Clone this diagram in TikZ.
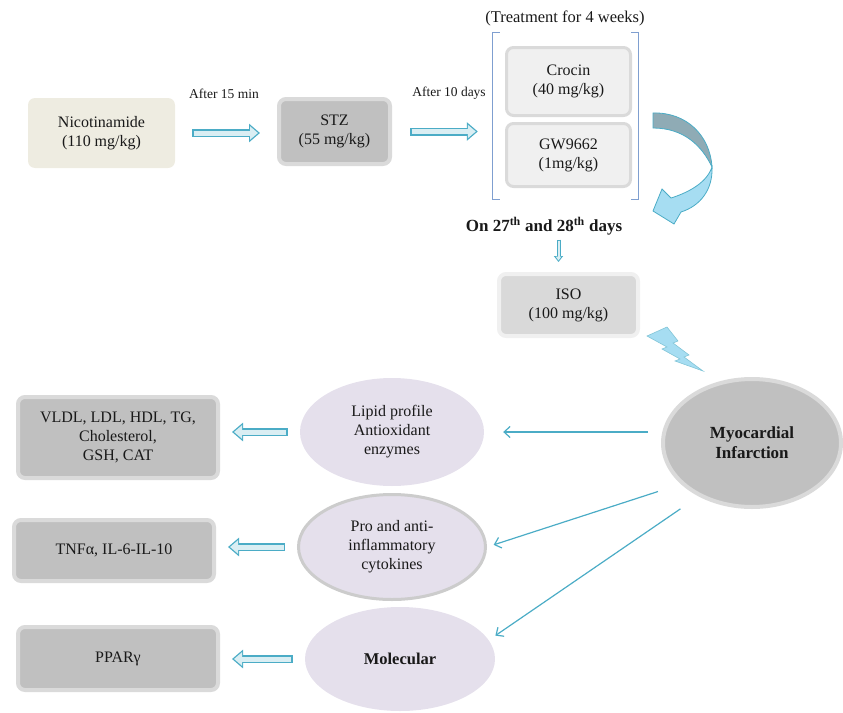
\documentclass[tikz,border=0pt]{standalone}
\usepackage{fontspec}
\setmainfont{Liberation Serif}
\usetikzlibrary{arrows.meta,positioning,shapes.geometric}
\definecolor{arrowline}{HTML}{4BACC6}
\definecolor{arrowfill}{HTML}{DAEEF3}
\definecolor{beige}{HTML}{EEECE1}
\definecolor{midgray}{HTML}{C0C0C0}
\definecolor{rimgray}{HTML}{DADADA}
\definecolor{lightgray2}{HTML}{D9D9D9}
\definecolor{palegray}{HTML}{F0F0F0}
\definecolor{lavender}{HTML}{E5E0EC}
\definecolor{bracketblue}{HTML}{7F9FD0}
\definecolor{boltblue}{HTML}{A6DDF2}
\definecolor{backblue}{HTML}{8FABB5}
\newcommand{\bodyfont}{\fontsize{16}{19}\selectfont}
\newcommand{\notefont}{\fontsize{13.5}{16}\selectfont}

\begin{document}
\begin{tikzpicture}[x=1pt,y=-1pt,
    every node/.style={align=center, text=black!90, font=\bodyfont},
    dosebox/.style={rectangle, rounded corners=7pt, inner sep=0pt},
    graybox/.style={dosebox, fill=midgray, draw=rimgray, line width=4pt},
    treatbox/.style={dosebox, fill=palegray, draw=rimgray, line width=3pt},
    effect/.style={ellipse, fill=lavender, inner sep=0pt},
    hollowarrow/.style 2 args={line width=8pt, draw=arrowline, shorten <=#1, shorten >=#2,
        -{Triangle[length=11pt,width=18pt]},
        postaction={draw=arrowfill, line width=5pt, shorten <=#1+1.5pt, shorten >=#2+2pt,
        -{Triangle[length=8pt,width=13pt]}}},
    smallarrow/.style 2 args={line width=4pt, draw=arrowline, shorten <=#1, shorten >=#2,
        -{Triangle[length=6pt,width=9pt]},
        postaction={draw=arrowfill, line width=2pt, shorten <=#1+1pt, shorten >=#2+1.5pt,
        -{Triangle[length=4pt,width=5.5pt]}}},
    thinarrow/.style={draw=arrowline, line width=1.2pt, -{Straight Barb[length=6pt,width=11pt]}}]
    \useasboundingbox (0,0) rectangle (843,712);

    % induction
    \node[dosebox, fill=beige, minimum width=147, minimum height=70] (nic) at (101.5,133) {Nicotinamide\\(110 mg/kg)};
    \node[graybox, minimum width=111, minimum height=65] (stz) at (334.5,131.5) {STZ\\(55 mg/kg)};
    \node[font=\notefont] (after15) at (224,94) {After 15 min};
    \node[font=\notefont] (after10) at (449,93) {After 10 days};

    % treatment
    \node[treatbox, minimum width=124, minimum height=68] (crocin) at (568.5,81.5) {Crocin\\(40 mg/kg)};
    \node[treatbox, minimum width=124, minimum height=63] (gw) at (568.5,155) {GW9662\\(1mg/kg)};
    \node[minimum width=145, minimum height=166, inner sep=0pt] (treat) at (565.5,116) {};
    \node[font=\fontsize{16.5}{19}\selectfont] (weeks) at (565,18) {(Treatment for 4 weeks)};
    \draw[bracketblue, line width=1.2pt] ([xshift=7]treat.north west) -| (treat.south west) -- ++(7,0);
    \draw[bracketblue, line width=1.2pt] ([xshift=-7]treat.north east) -| (treat.south east) -- ++(-7,0);

    \draw[hollowarrow={17pt}{17pt}] (nic.east) -- (nic.east -| stz.west);
    \draw[hollowarrow={18pt}{15pt}] (stz.east) -- (stz.east -| treat.west);

    % curved arrow
    \draw[arrowline, line width=0.8pt, fill=backblue]
        (653,113) .. controls (686,112) and (710,135) .. (712,167)
        .. controls (702,146) and (684,128) .. (653,128) -- cycle;
    \draw[arrowline, line width=0.8pt, fill=boltblue]
        (712,167) .. controls (713,190) and (700,206) .. (681,212) -- (674,224) -- (653,211)
        -- (662,189) -- (671,198) .. controls (690,192) and (707,182) .. (712,167) -- cycle;

    % ISO
    \node[font=\bfseries\fontsize{17}{20}\selectfont] (days) at (544,226) {On 27\textsuperscript{th} and 28\textsuperscript{th} days};
    \node[graybox, fill=lightgray2, draw=palegray, minimum width=139, minimum height=62] (iso) at (568.5,305) {ISO\\(100 mg/kg)};
    \coordinate (isoin) at ([xshift=-10pt]iso.north);
    \draw[smallarrow={1pt}{10pt}] (days.south -| isoin) -- (isoin);

    % lightning
    \draw[arrowline!70, line width=0.6pt, fill=boltblue]
        (647,336) -- (667,327) -- (678,341) -- (673,343) -- (689,355) -- (684,357) -- (703,371)
        -- (675,361) -- (680,359) -- (662,349) -- (667,347) -- cycle;

    % outcome
    \node[ellipse, fill=midgray, draw=rimgray, line width=4pt, minimum width=178, minimum height=128,
        font=\bfseries\fontsize{17}{20}\selectfont] (mi) at (752,443) {Myocardial\\Infarction};
    \node[effect, minimum width=184, minimum height=108] (lipid) at (392,432) {Lipid profile\\Antioxidant\\enzymes};
    \node[effect, draw=rimgray!85!gray, line width=3pt, minimum width=187, minimum height=105] (pro) at (392,547) {Pro and anti-\\inflammatory\\cytokines};
    \node[effect, minimum width=190, minimum height=104, font=\bfseries\fontsize{16.5}{19}\selectfont] (mol) at (400,659) {Molecular};

    \node[graybox, minimum width=200, minimum height=81] (vldl) at (118,437.5) {VLDL, LDL, HDL, TG,\\Cholesterol,\\GSH, CAT};
    \node[graybox, minimum width=200, minimum height=61] (tnf) at (114,550.5) {TNFα, IL-6-IL-10};
    \node[graybox, minimum width=200, minimum height=63] (ppar) at (118,658.5) {PPARγ};

    \draw[thinarrow, shorten <=13pt, shorten >=19pt] (mi.west |- lipid.east) -- (lipid.east);
    \draw[thinarrow, shorten <=24pt, shorten >=7pt] (mi.210) -- (pro.east);
    \draw[thinarrow, shorten <=22pt, shorten >=8pt] (mi.225) -- (mol.12);

    \draw[hollowarrow={12pt}{12pt}] (lipid.west) -- (lipid.west -| vldl.east);
    \draw[hollowarrow={12pt}{12pt}] (pro.west) -- (pro.west -| tnf.east);
    \draw[hollowarrow={12pt}{12pt}] (mol.west) -- (mol.west -| ppar.east);
\end{tikzpicture}
\end{document}
